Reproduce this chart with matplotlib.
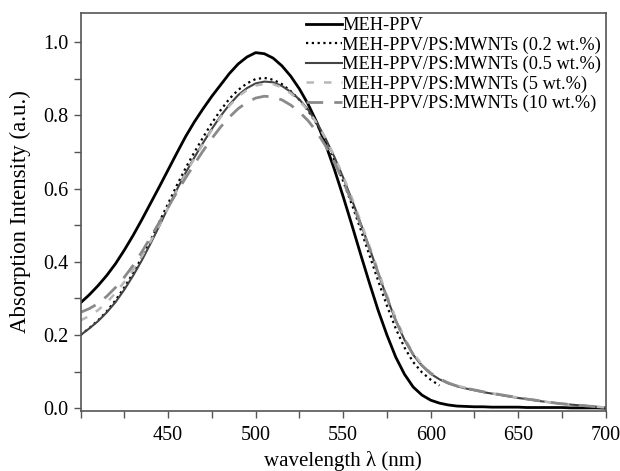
import matplotlib
matplotlib.use("Agg")
import matplotlib.pyplot as plt
from matplotlib.ticker import MultipleLocator, FormatStrFormatter

plt.rcParams['font.family'] = ['Liberation Serif', 'DejaVu Serif']

# wavelength grid (nm), 5 nm steps
wavelength = list(range(400, 701, 5))

meh_ppv = [
    0.288, 0.310, 0.335, 0.363, 0.395, 0.432, 0.472, 0.515, 0.560, 0.605,
    0.651, 0.697, 0.742, 0.782, 0.818, 0.852, 0.883, 0.914, 0.940, 0.959,
    0.971, 0.968, 0.956, 0.935, 0.907, 0.872, 0.830, 0.780, 0.720, 0.652,
    0.578, 0.500, 0.420, 0.342, 0.267, 0.200, 0.140, 0.093, 0.058, 0.036,
    0.022, 0.014, 0.009, 0.006, 0.005, 0.004, 0.004, 0.003, 0.003, 0.003,
    0.003, 0.002, 0.002, 0.002, 0.002, 0.002, 0.001, 0.001, 0.001, 0.001,
    0.000,
]

# 0.2 wt.% curve stops at 605 nm
mwnt_02 = [
    0.200, 0.219, 0.240, 0.265, 0.295, 0.330, 0.369, 0.412, 0.459, 0.509,
    0.559, 0.609, 0.656, 0.699, 0.740, 0.779, 0.814, 0.845, 0.869, 0.887,
    0.899, 0.902, 0.897, 0.885, 0.866, 0.842, 0.812, 0.775, 0.730, 0.678,
    0.620, 0.556, 0.488, 0.418, 0.348, 0.280, 0.218, 0.166, 0.126, 0.098,
    0.078, 0.062,
]

mwnt_05 = [
    0.200, 0.218, 0.238, 0.262, 0.290, 0.324, 0.362, 0.404, 0.450, 0.498,
    0.548, 0.597, 0.643, 0.685, 0.725, 0.763, 0.798, 0.829, 0.855, 0.874,
    0.887, 0.892, 0.890, 0.880, 0.864, 0.843, 0.815, 0.779, 0.736, 0.686,
    0.630, 0.569, 0.505, 0.438, 0.369, 0.302, 0.240, 0.187, 0.146, 0.116,
    0.094, 0.079, 0.068, 0.060, 0.054, 0.049, 0.044, 0.040, 0.036, 0.032,
    0.028, 0.025, 0.021, 0.018, 0.015, 0.012, 0.010, 0.008, 0.006, 0.004,
    0.002,
]

mwnt_5 = [
    0.240, 0.252, 0.268, 0.289, 0.315, 0.345, 0.378, 0.415, 0.456, 0.500,
    0.547, 0.594, 0.640, 0.682, 0.722, 0.760, 0.795, 0.826, 0.851, 0.869,
    0.881, 0.886, 0.885, 0.876, 0.860, 0.840, 0.813, 0.778, 0.736, 0.688,
    0.634, 0.574, 0.510, 0.443, 0.375, 0.308, 0.246, 0.192, 0.150, 0.120,
    0.097, 0.081, 0.070, 0.062, 0.056, 0.050, 0.045, 0.041, 0.037, 0.033,
    0.029, 0.025, 0.022, 0.018, 0.015, 0.013, 0.010, 0.008, 0.006, 0.004,
    0.002,
]

mwnt_10 = [
    0.262, 0.272, 0.286, 0.306, 0.330, 0.358, 0.390, 0.427, 0.467, 0.508,
    0.549, 0.590, 0.629, 0.667, 0.703, 0.737, 0.768, 0.795, 0.818, 0.835,
    0.847, 0.852, 0.850, 0.842, 0.828, 0.809, 0.785, 0.754, 0.716, 0.671,
    0.620, 0.563, 0.501, 0.436, 0.369, 0.302, 0.240, 0.188, 0.147, 0.117,
    0.095, 0.080, 0.069, 0.061, 0.055, 0.050, 0.045, 0.041, 0.037, 0.033,
    0.029, 0.025, 0.022, 0.018, 0.015, 0.012, 0.010, 0.008, 0.006, 0.004,
    0.002,
]

labels = [
    "MEH-PPV",
    "MEH-PPV/PS:MWNTs (0.2 wt.%)",
    "MEH-PPV/PS:MWNTs (0.5 wt.%)",
    "MEH-PPV/PS:MWNTs (5 wt.%)",
    "MEH-PPV/PS:MWNTs (10 wt.%)",
]

fig = plt.figure(figsize=(6.2, 4.71), dpi=100)
ax = fig.add_axes([0.13, 0.127, 0.847, 0.846])

ax.plot(wavelength, meh_ppv, color='black', lw=2.0, label=labels[0])
ax.plot(wavelength[:len(mwnt_02)], mwnt_02, color='black', lw=1.6,
        linestyle=(0, (1, 1.6)), label=labels[1])
ax.plot(wavelength, mwnt_05, color='#444444', lw=1.5, label=labels[2])
ax.plot(wavelength, mwnt_5, color='#b8b8b8', lw=1.8,
        linestyle=(0, (3, 4)), label=labels[3])
ax.plot(wavelength, mwnt_10, color='#8a8a8a', lw=2.0,
        linestyle=(0, (6, 4)), label=labels[4])

ax.set_xlim(400, 700)
ax.set_ylim(-0.008, 1.08)
ax.set_xticks([450, 500, 550, 600, 650, 700])
ax.set_xticks([400, 425, 475, 525, 575, 625, 675], minor=True)
ax.yaxis.set_major_locator(MultipleLocator(0.2))
ax.yaxis.set_minor_locator(MultipleLocator(0.1))
ax.yaxis.set_major_formatter(FormatStrFormatter('%.1f'))

ax.tick_params(which='both', direction='out', labelsize=14.5, color='#555555')
ax.tick_params(which='both', length=5, width=1)
ax.tick_params(axis='x', pad=6)
for sp in ax.spines.values():
    sp.set_color('#555555')
    sp.set_linewidth(1.2)

ax.set_xlabel("wavelength λ (nm)", fontsize=15, labelpad=4)
ax.set_ylabel("Absorption Intensity (a.u.)", fontsize=16.5, labelpad=9)

ax.legend(loc='upper right', frameon=False, fontsize=13.2, handlelength=2.0,
          handletextpad=0.0, labelspacing=0.12, borderaxespad=0.0,
          borderpad=0.25)

fig.savefig("out.png", dpi=100)
